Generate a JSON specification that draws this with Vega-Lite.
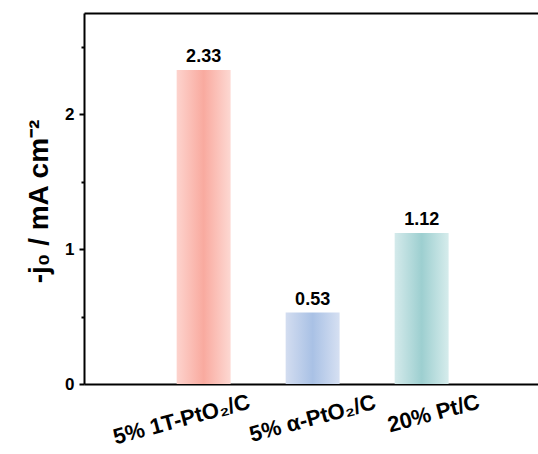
{
  "$schema": "https://vega.github.io/schema/vega-lite/v6.json",
  "autosize": "none",
  "padding": {"left": 84, "top": 13, "right": 0, "bottom": 70},
  "width": 454,
  "height": 371,
  "background": "white",
  "config": {
    "font": "Liberation Sans",
    "view": {"stroke": null}
  },
  "data": {
    "values": [
      {"catalyst": "5% 1T-PtO₂/C", "j0": 2.33},
      {"catalyst": "5% α-PtO₂/C", "j0": 0.53},
      {"catalyst": "20% Pt/C", "j0": 1.12}
    ]
  },
  "encoding": {
    "y": {
      "field": "j0",
      "type": "quantitative",
      "scale": {"domain": [0, 2.753], "nice": false},
      "axis": {
        "title": "-j₀ / mA cm⁻²",
        "titleFont": "Liberation Sans",
        "titleFontSize": 28,
        "titleFontWeight": "bold",
        "titleColor": "black",
        "titleAngle": -90,
        "titleBaseline": "alphabetic",
        "titleAlign": "center",
        "titleX": -37,
        "titleY": 188,
        "values": [0, 0.5, 1, 1.5, 2, 2.5],
        "labelExpr": "datum.value % 1 === 0 ? format(datum.value, 'd') : ''",
        "labelFont": "Liberation Sans",
        "labelFontSize": 17,
        "labelFontWeight": "bold",
        "labelColor": "black",
        "labelPadding": 5,
        "grid": false,
        "domain": true,
        "domainColor": "black",
        "domainWidth": 2,
        "tickColor": "black",
        "tickWidth": 2,
        "tickSize": {"condition": {"test": "datum.value % 1 !== 0", "value": 3}, "value": 5}
      }
    }
  },
  "layer": [
    {
      "mark": {"type": "bar"},
      "encoding": {
        "x": {
          "field": "catalyst",
          "type": "nominal",
          "sort": null,
          "scale": {"domain": ["5% 1T-PtO₂/C", "5% α-PtO₂/C", "20% Pt/C"], "paddingInner": 0.505, "paddingOuter": 0.835, "align": 0.509},
          "axis": {
            "orient": "bottom",
            "title": null,
            "domain": true,
            "domainColor": "black",
            "domainWidth": 2,
            "ticks": false,
            "tickSize": 0,
            "labelAngle": -15,
            "labelAlign": "center",
            "labelBaseline": "middle",
            "labelFont": "Liberation Sans",
            "labelFontSize": 22,
            "labelFontWeight": "bold",
            "labelColor": "black",
            "labelPadding": {"condition": [
              {"test": "datum.value === '5% 1T-PtO₂/C'", "value": 35},
              {"test": "datum.value === '20% Pt/C'", "value": 29}
            ], "value": 34},
            "labelOffset": {"condition": [
              {"test": "datum.value === '5% 1T-PtO₂/C'", "value": -22},
              {"test": "datum.value === '20% Pt/C'", "value": 12}
            ], "value": 0}
          }
        },
        "color": {
          "condition": [
            {"test": "datum.catalyst === '5% 1T-PtO₂/C'", "value": {"gradient": "linear", "x1": 0, "x2": 1, "y1": 0, "y2": 0, "stops": [
              {"offset": 0, "color": "#fdd3cd"},
              {"offset": 0.5, "color": "#f9aa9f"},
              {"offset": 1, "color": "#fdd8d2"}
            ]}},
            {"test": "datum.catalyst === '5% α-PtO₂/C'", "value": {"gradient": "linear", "x1": 0, "x2": 1, "y1": 0, "y2": 0, "stops": [
              {"offset": 0, "color": "#d3ddf0"},
              {"offset": 0.5, "color": "#a9c1e5"},
              {"offset": 1, "color": "#d6e0f2"}
            ]}}
          ],
          "value": {"gradient": "linear", "x1": 0, "x2": 1, "y1": 0, "y2": 0, "stops": [
            {"offset": 0, "color": "#d4eaeb"},
            {"offset": 0.5, "color": "#9dcfd0"},
            {"offset": 1, "color": "#d6ecec"}
          ]}
        }
      }
    },
    {
      "mark": {"type": "text", "baseline": "bottom", "dy": -4, "font": "Liberation Sans", "fontSize": 18, "fontWeight": "bold", "color": "black"},
      "encoding": {
        "x": {
          "field": "catalyst",
          "type": "nominal",
          "sort": null,
          "axis": {
            "orient": "top",
            "title": null,
            "domain": true,
            "domainColor": "black",
            "domainWidth": 2,
            "ticks": false,
            "labels": false
          }
        },
        "text": {"field": "j0", "type": "quantitative", "format": ".2f"}
      }
    }
  ]
}
